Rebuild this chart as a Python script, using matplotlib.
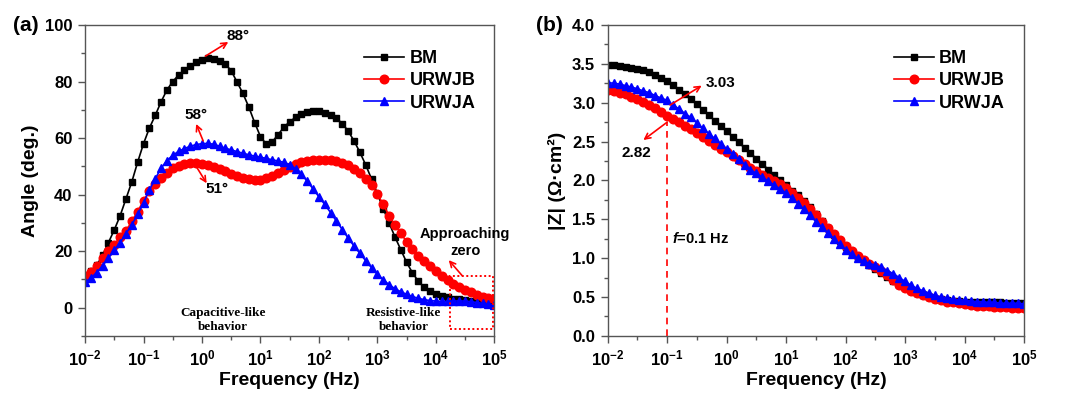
import numpy as np
import matplotlib
matplotlib.use("Agg")
import matplotlib.pyplot as plt
from matplotlib.ticker import FixedLocator, FuncFormatter, MultipleLocator
from matplotlib.patches import Rectangle

plt.rcParams['font.family'] = ['Liberation Sans', 'DejaVu Sans']
plt.rcParams['font.weight'] = 'bold'
plt.rcParams['mathtext.fontset'] = 'custom'
plt.rcParams['mathtext.rm'] = 'Liberation Sans:bold'
plt.rcParams['mathtext.bf'] = 'Liberation Sans:bold'
plt.rcParams['mathtext.it'] = 'Liberation Sans:bold:italic'

# EIS sweep, 10 points per decade, 10 mHz .. 100 kHz
freq = np.logspace(-2, 5, 71)

series = ["BM", "URWJB", "URWJA"]

angle_bm = [11, 12.8, 15, 18.5, 23, 27.5, 32.5, 38.5, 44.5, 51.5,
            58, 63.5, 68, 72.8, 77, 80, 82.3, 84, 85.4, 86.8,
            87.7, 88.2, 88, 87.3, 86.2, 83.8, 79.8, 75.8, 71, 65.5,
            60.5, 57.8, 58.6, 61.2, 63.8, 65.8, 67.3, 68.5, 69.2, 69.5,
            69.4, 69, 68.3, 67, 65.1, 62.5, 59, 55, 50.5, 45.5,
            40.3, 35, 30, 25, 20.5, 16, 12.3, 9.3, 7.2, 5.8,
            4.8, 4.1, 3.6, 3.2, 2.9, 2.6, 2.3, 2.0, 1.7, 1.5, 1.2]
angle_urwjb = [11.3, 12.5, 14.8, 17.5, 20, 22.3, 25, 27.2, 30.5, 34,
               37.9, 41.2, 43.6, 45.8, 47.8, 49.3, 50.1, 50.8, 51.3, 51.3,
               50.9, 50.3, 49.6, 49, 48.2, 47.3, 46.5, 45.9, 45.5, 45.2,
               45.3, 45.8, 46.5, 47.5, 48.8, 49.9, 50.8, 51.5, 52, 52.3,
               52.4, 52.4, 52.3, 52, 51.3, 50.3, 49, 47.5, 45.5, 43.3,
               40.3, 36.5, 32.5, 29.2, 26.3, 23.3, 20.6, 18.4, 16.4, 14.7,
               13, 11.3, 9.8, 8.4, 7.3, 6.3, 5.4, 4.6, 3.9, 3.4, 3.0]
angle_urwja = [8.9, 10.5, 12.4, 14.8, 17.5, 20.3, 23, 26.2, 29.3, 33,
               37, 41.6, 45.6, 49.3, 52, 53.9, 55.3, 56.3, 57.1, 57.7,
               58, 58.1, 57.8, 57.1, 56.4, 55.8, 55.2, 54.6, 54.1, 53.6,
               53.2, 52.8, 52.3, 51.9, 51.4, 50.6, 49.2, 47.2, 44.7, 42,
               39.2, 36.5, 33.6, 30.6, 27.6, 24.6, 21.8, 19.2, 16.6, 14.1,
               11.9, 9.8, 8.1, 6.7, 5.6, 4.7, 3.9, 3.3, 2.8, 2.5,
               2.3, 2.2, 2.2, 2.3, 2.4, 2.3, 2.1, 1.8, 1.5, 1.2, 0.9]

z_bm = [3.48, 3.48, 3.47, 3.46, 3.45, 3.44, 3.42, 3.39, 3.36, 3.32,
        3.28, 3.23, 3.17, 3.11, 3.05, 2.98, 2.91, 2.84, 2.77, 2.70,
        2.63, 2.56, 2.49, 2.42, 2.35, 2.28, 2.21, 2.14, 2.07, 2.00,
        1.94, 1.87, 1.81, 1.74, 1.66, 1.57, 1.48, 1.39, 1.30, 1.22,
        1.14, 1.07, 1.01, 0.96, 0.91, 0.86, 0.81, 0.76, 0.71, 0.66,
        0.62, 0.58, 0.55, 0.52, 0.50, 0.48, 0.47, 0.46, 0.45, 0.45,
        0.44, 0.44, 0.43, 0.43, 0.43, 0.43, 0.43, 0.42, 0.42, 0.42, 0.42]
z_urwjb = [3.17, 3.15, 3.13, 3.11, 3.08, 3.05, 3.01, 2.97, 2.93, 2.88,
           2.83, 2.79, 2.75, 2.70, 2.66, 2.61, 2.56, 2.51, 2.46, 2.41,
           2.36, 2.31, 2.26, 2.21, 2.16, 2.12, 2.07, 2.03, 1.99, 1.95,
           1.90, 1.84, 1.78, 1.71, 1.63, 1.55, 1.47, 1.39, 1.31, 1.23,
           1.16, 1.09, 1.03, 0.98, 0.93, 0.89, 0.84, 0.78, 0.72, 0.66,
           0.62, 0.58, 0.55, 0.52, 0.50, 0.48, 0.46, 0.44, 0.43, 0.42,
           0.41, 0.40, 0.39, 0.38, 0.38, 0.37, 0.37, 0.37, 0.36, 0.36, 0.36]
z_urwja = [3.26, 3.25, 3.24, 3.22, 3.20, 3.18, 3.15, 3.13, 3.09, 3.06,
           3.03, 2.97, 2.92, 2.86, 2.81, 2.74, 2.67, 2.60, 2.54, 2.47,
           2.40, 2.34, 2.27, 2.20, 2.14, 2.09, 2.04, 1.99, 1.94, 1.89,
           1.84, 1.77, 1.70, 1.63, 1.55, 1.47, 1.40, 1.32, 1.25, 1.18,
           1.11, 1.05, 1.00, 0.96, 0.93, 0.91, 0.88, 0.84, 0.80, 0.75,
           0.70, 0.65, 0.61, 0.58, 0.55, 0.52, 0.50, 0.49, 0.47, 0.46,
           0.46, 0.45, 0.44, 0.44, 0.43, 0.43, 0.42, 0.42, 0.42, 0.42, 0.41]

colors = ["black", "#ff0000", "#0000ff"]
markers = ["s", "o", "^"]
msizes = [5.0, 6.2, 6.2]

spine_col = "#555555"


def log_label(v, pos):
    return r"$\mathbf{10^{%d}}$" % int(round(np.log10(v)))


def style_axes(ax):
    ax.set_xscale("log")
    ax.set_xlim(1e-2, 1e5)
    ax.xaxis.set_major_locator(FixedLocator([10.0 ** k for k in range(-2, 6)]))
    ax.xaxis.set_minor_locator(FixedLocator([10.0 ** (k + 0.5) for k in range(-2, 5)]))
    ax.xaxis.set_major_formatter(FuncFormatter(log_label))
    ax.xaxis.set_minor_formatter(FuncFormatter(lambda v, p: ""))
    for s in ax.spines.values():
        s.set_color(spine_col)
        s.set_linewidth(1.0)
    ax.tick_params(which="both", direction="out", color=spine_col, top=False, right=False,
                   labelsize=12, width=1.0)
    ax.tick_params(which="major", length=5, pad=4)
    ax.tick_params(which="minor", length=3)
    ax.set_xlabel("Frequency (Hz)", fontsize=14, fontweight="bold", labelpad=3)


fig = plt.figure(figsize=(10.67, 3.97), dpi=100)
ax1 = fig.add_axes([0.0797, 0.154, 0.3836, 0.783])
ax2 = fig.add_axes([0.5695, 0.154, 0.3904, 0.783])

# (a) phase angle
for name, ys, c, m, ms in zip(series, [angle_bm, angle_urwjb, angle_urwja], colors, markers, msizes):
    ax1.plot(freq, ys, color=c, marker=m, markersize=ms, linewidth=1.2, label=name)
style_axes(ax1)
ax1.set_ylim(-10, 100)
ax1.yaxis.set_major_locator(FixedLocator([0, 20, 40, 60, 80, 100]))
ax1.yaxis.set_minor_locator(FixedLocator([-10, 10, 30, 50, 70, 90]))
ax1.set_ylabel("Angle (deg.)", fontsize=14, fontweight="bold", labelpad=4)
ax1.legend(loc="upper right", bbox_to_anchor=(0.98, 0.955), frameon=False, fontsize=13,
           handlelength=2.2, handletextpad=0.3, borderaxespad=0.2, labelspacing=0.3)

arrow = dict(arrowstyle="->", color="#ff0000", lw=1.2, shrinkA=0, shrinkB=0)
ax1.annotate("", xy=(10 ** 0.45, 94), xytext=(10 ** 0.06, 89), arrowprops=arrow)
ax1.text(10 ** 0.42, 96, "88°", fontsize=11, ha="left", va="center")
ax1.annotate("", xy=(10 ** -0.1, 65), xytext=(10 ** 0.02, 59), arrowprops=arrow)
ax1.text(10 ** -0.1, 68, "58°", fontsize=11, ha="center", va="center")
ax1.annotate("", xy=(10 ** 0.08, 44), xytext=(10 ** -0.1, 50), arrowprops=arrow)
ax1.text(10 ** 0.25, 42, "51°", fontsize=11, ha="center", va="center")

serif = ["Liberation Serif", "DejaVu Serif"]
ax1.text(10 ** 0.36, -4.3, "Capacitive-like\nbehavior", family=serif, fontsize=9.5,
         fontweight="bold", ha="center", va="center", linespacing=1.2)
ax1.text(10 ** 3.45, -4.3, "Resistive-like\nbehavior", family=serif, fontsize=9.5,
         fontweight="bold", ha="center", va="center", linespacing=1.2)
ax1.text(10 ** 4.5, 23, "Approaching\nzero", fontsize=10.5, ha="center", va="center",
         linespacing=1.25)
ax1.annotate("", xy=(10 ** 4.22, 16.8), xytext=(10 ** 4.45, 11.3), arrowprops=arrow)
ax1.add_patch(Rectangle((10 ** 4.25, -7.6), 10 ** 4.98 - 10 ** 4.25, 18.9,
                        fill=False, edgecolor="#ff0000", linestyle=(0, (1, 1.3)), lw=1.4,
                        zorder=5))
fig.text(0.012, 0.935, "(a)", fontsize=15, fontweight="bold", va="center")

# (b) impedance modulus
for name, ys, c, m, ms in zip(series, [z_bm, z_urwjb, z_urwja], colors, markers, msizes):
    ax2.plot(freq, ys, color=c, marker=m, markersize=ms, linewidth=1.2, label=name)
style_axes(ax2)
ax2.set_ylim(0, 4)
ax2.yaxis.set_major_locator(MultipleLocator(0.5))
ax2.yaxis.set_minor_locator(MultipleLocator(0.25))
ax2.yaxis.set_major_formatter(FuncFormatter(lambda v, p: "%.1f" % v))
ax2.set_ylabel("|Z| (Ω·cm²)", fontsize=14, fontweight="bold", labelpad=4)
ax2.legend(loc="upper right", bbox_to_anchor=(0.98, 0.955), frameon=False, fontsize=13,
           handlelength=2.2, handletextpad=0.3, borderaxespad=0.2, labelspacing=0.3)

ax2.plot([0.1, 0.1], [0, 2.75], color="#ff0000", linestyle=(0, (4, 3)), lw=1.2)
ax2.annotate("", xy=(10 ** -0.42, 3.22), xytext=(10 ** -0.95, 2.97), arrowprops=arrow)
ax2.text(10 ** -0.35, 3.26, "3.03", fontsize=11, ha="left", va="center")
ax2.annotate("", xy=(10 ** -1.4, 2.52), xytext=(10 ** -1.0, 2.75), arrowprops=arrow)
ax2.text(10 ** -1.52, 2.35, "2.82", fontsize=11, ha="center", va="center")
ax2.text(10 ** -0.92, 1.25, r"$\mathit{f}$=0.1 Hz", fontsize=10.5, ha="left", va="center")
fig.text(0.502, 0.935, "(b)", fontsize=15, fontweight="bold", va="center")

fig.savefig("out.png", dpi=100)
